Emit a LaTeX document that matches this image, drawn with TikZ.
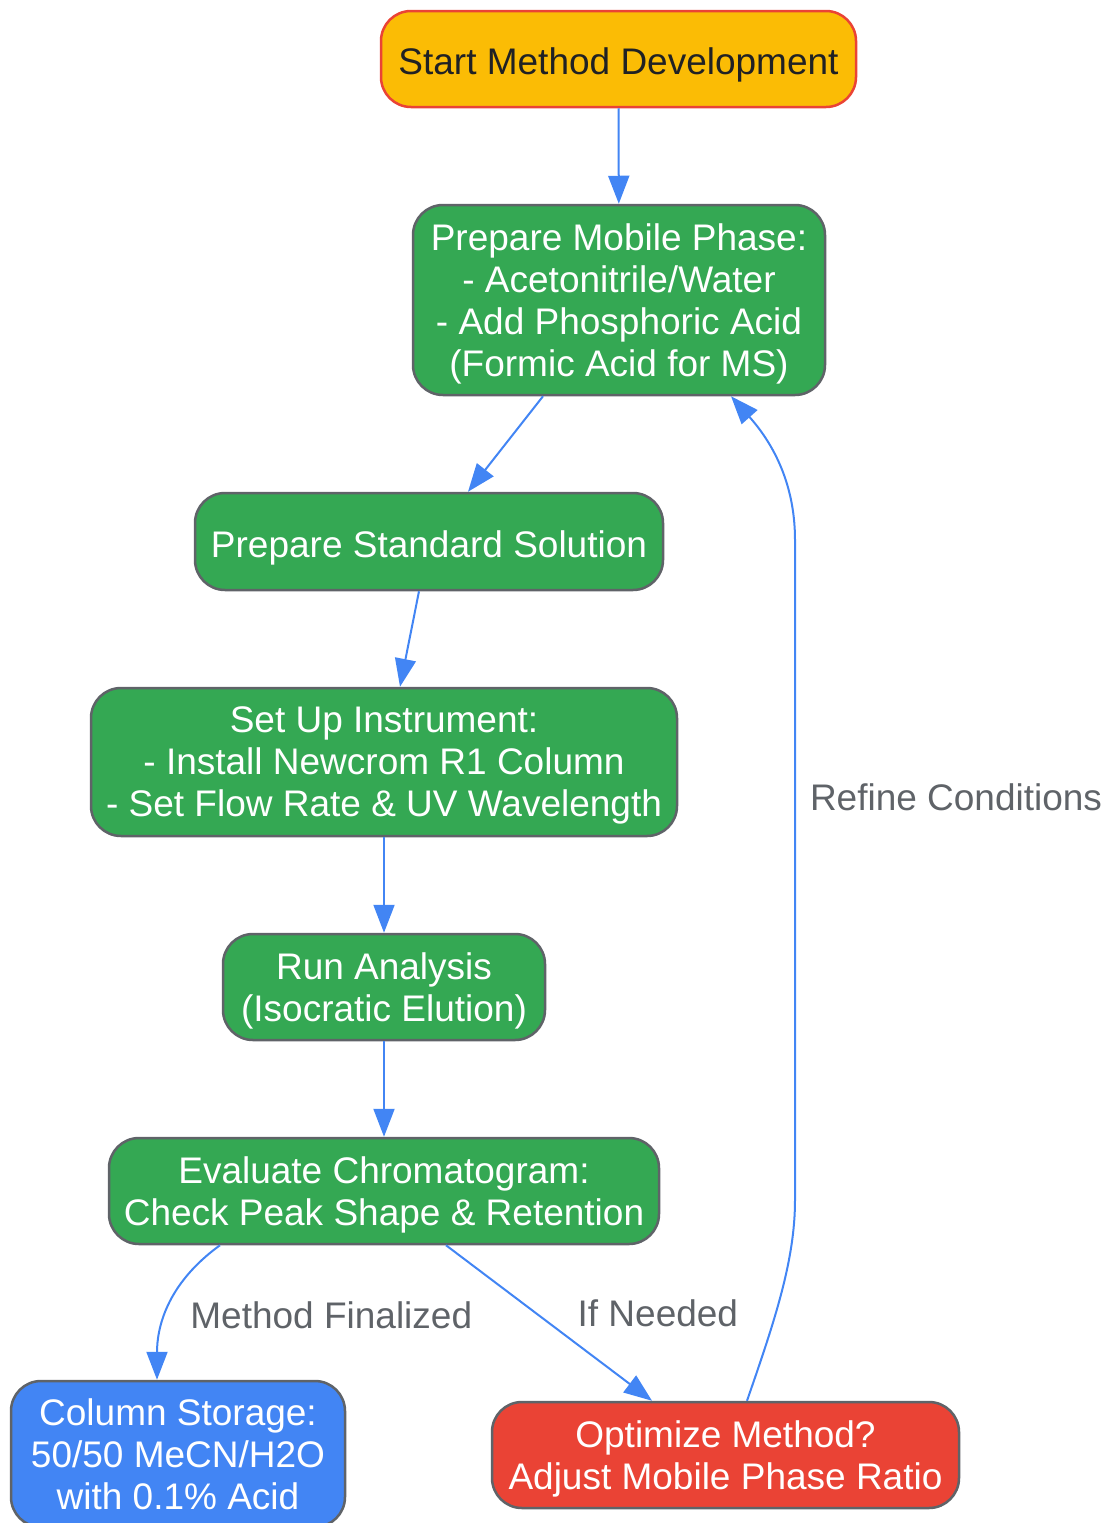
\documentclass[tikz,border=0pt]{standalone}
\usepackage{fontspec}
\setmainfont{Liberation Sans}
\usepackage{xcolor}
\usetikzlibrary{arrows.meta,positioning,shapes}
\definecolor{gYellow}{HTML}{FBBC05}
\definecolor{gRed}{HTML}{EA4335}
\definecolor{gGreen}{HTML}{34A853}
\definecolor{gBlue}{HTML}{4285F4}
\definecolor{gGray}{HTML}{5F6368}
\definecolor{gInk}{HTML}{202124}
\tikzset{
  box/.style={draw=gGray, line width=2.5pt, rounded corners=30pt, align=center,
  text=white, inner sep=4pt, text depth=0pt, font=\fontsize{37}{42}\selectfont,
  execute at begin node={\rule{0pt}{31pt}}},
  startbox/.style={box, fill=gYellow, draw=gRed, text=gInk},
  stepbox/.style={box, fill=gGreen},
  storebox/.style={box, fill=gBlue},
  askbox/.style={box, fill=gRed},
  flow/.style={draw=gBlue, line width=2pt,
  -{Triangle[length=28pt,width=21pt]}},
  lbl/.style={text=gGray, inner sep=2pt, font=\fontsize{37}{42}\selectfont}
}
\begin{document}
\begin{tikzpicture}[x=1pt,y=-1pt]
\useasboundingbox (0,0) rectangle (1108,1523);
% nodes
\node[startbox, minimum width=475pt, minimum height=96pt] (start) at (618.5,59)
  {Start Method Development};
\node[stepbox, minimum width=412pt, minimum height=190pt] (mobile) at (619,300)
  {Prepare Mobile Phase:\\- Acetonitrile/Water\\- Add Phosphoric Acid\\(Formic Acid for MS)};
\node[stepbox, minimum width=468pt, minimum height=97pt] (std) at (429,541.5)
  {Prepare Standard Solution};
\node[stepbox, minimum width=586pt, minimum height=148pt] (setup) at (384,762)
  {Set Up Instrument:\\- Install Newcrom R1 Column\\- Set Flow Rate \& UV Wavelength};
\node[stepbox, minimum width=322pt, minimum height=106pt] (run) at (384,987)
  {Run Analysis\\(Isocratic Elution)};
\node[stepbox, minimum width=550pt, minimum height=106pt] (eval) at (384,1191)
  {Evaluate Chromatogram:\\Check Peak Shape \& Retention};
\node[storebox, minimum width=334pt, minimum height=146pt] (store) at (178,1454)
  {Column Storage:\\50/50 MeCN/H2O\\with 0.1\% Acid};
\node[askbox, minimum width=467pt, minimum height=106pt] (opt) at (725.5,1455)
  {Optimize Method?\\Adjust Mobile Phase Ratio};
% connectors
\draw[flow] (start) -- (mobile);
\draw[flow] ([xshift=-76pt]mobile.south) -- ([xshift=39pt]std.north);
\draw[flow] ([xshift=-10pt]std.south) -- ([xshift=16pt]setup.north);
\draw[flow] (setup) -- (run);
\draw[flow] (run) -- (eval);
\draw[flow] ([xshift=-164pt]eval.south) .. controls (165,1285) and (157,1330)
  .. node[lbl, pos=0.55, right=22pt] {Method Finalized} ([xshift=-21pt]store.north);
\draw[flow] ([xshift=62pt]eval.south) -- node[lbl, pos=0.44, right=38pt] {If Needed}
  ([xshift=-73.5pt]opt.north);
\draw[flow] ([xshift=21.5pt]opt.north) .. controls (775,1320) and (795,1260) .. (795,1200)
  -- node[lbl, pos=0.61, right=12pt] {Refine Conditions} (795,540)
  .. controls (795,480) and (770,440) .. ([xshift=112pt]mobile.south);
\end{tikzpicture}
\end{document}
